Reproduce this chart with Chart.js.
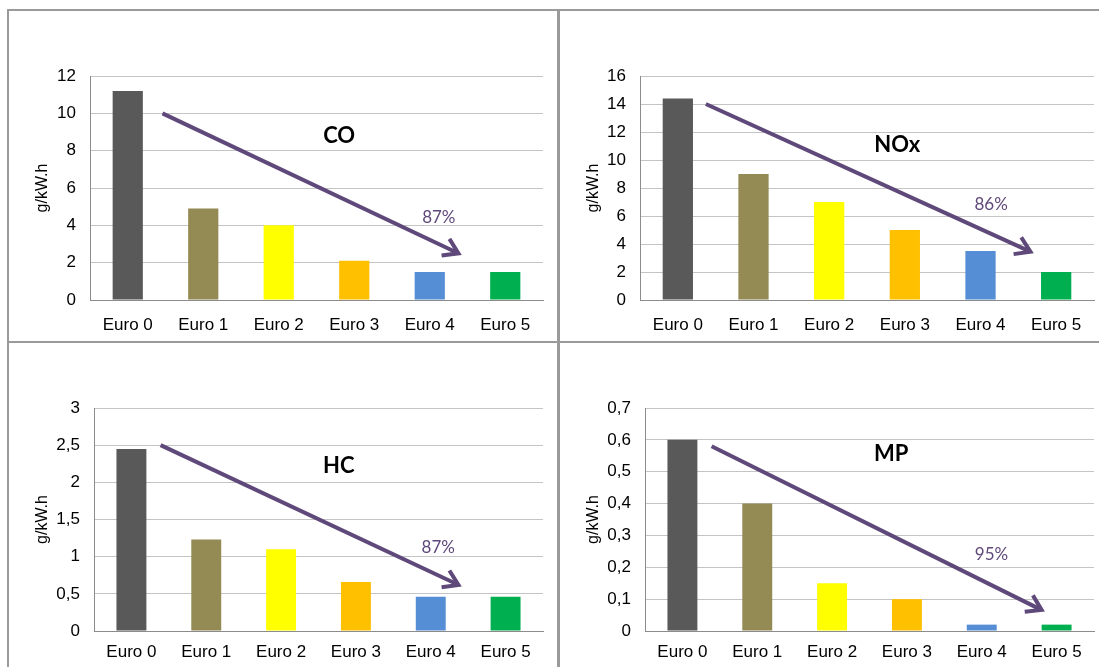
<!DOCTYPE html>
<html>
<head>
<meta charset="utf-8">
<script src="https://cdn.jsdelivr.net/npm/chart.js@4.4.1/dist/chart.umd.min.js"></script>
<style>
  html, body { margin: 0; padding: 0; background: #fff; overflow: hidden; }
  body { width: 1099px; height: 667px; position: relative; }
  .panel { position: absolute; box-sizing: border-box; border: 2px solid #9a9a9a; background: #fff; }
  .panel canvas { display: block; }
  #p1 { left: 7px;   top: 9px;   width: 552px; height: 335px; }
  #p2 { left: 558px; top: 9px;   width: 560px; height: 335px; }
  #p3 { left: 7px;   top: 341px; width: 552px; height: 340px; }
  #p4 { left: 558px; top: 341px; width: 560px; height: 340px; }
</style>
</head>
<body>
<div class="panel" id="p1"><canvas id="coChart" width="548" height="331"></canvas></div>
<div class="panel" id="p2"><canvas id="noxChart" width="556" height="331"></canvas></div>
<div class="panel" id="p3"><canvas id="hcChart" width="548" height="336"></canvas></div>
<div class="panel" id="p4"><canvas id="mpChart" width="556" height="336"></canvas></div>

<script>
const categories = ['Euro 0', 'Euro 1', 'Euro 2', 'Euro 3', 'Euro 4', 'Euro 5'];
const barColors = ['#595959', '#948a54', '#ffff00', '#ffc000', '#558ed5', '#00b050'];

// emission limits, g/kW.h
const coValues  = [11.2, 4.9, 4.0, 2.1, 1.5, 1.5];
const noxValues = [14.4, 9.0, 7.0, 5.0, 3.5, 2.0];
const hcValues  = [2.45, 1.23, 1.1, 0.66, 0.46, 0.46];
const mpValues  = [0.6, 0.4, 0.15, 0.1, 0.02, 0.02];

const pollutants = ['CO', 'NOx', 'HC', 'MP'];
const reductions = ['87%', '86%', '87%', '95%'];
const yMax  = [12, 16, 3, 0.7];
const yStep = [2, 2, 0.5, 0.1];

const unitLabel = 'g/kW.h';
const arrowColor = '#5f497a';
const fontFamily = '"Liberation Sans", Arial, sans-serif';

function fmt(v) {
  return String(Number(v.toFixed(2))).replace('.', ',');
}

// trend arrow, pollutant name and reduction text, placed in data units
const overlay = {
  id: 'overlay',
  afterDatasetsDraw(chart, args, o) {
    const ctx = chart.ctx;
    const xs = chart.scales.x, ys = chart.scales.y;
    const x0 = xs.getPixelForValue(0), dx = xs.getPixelForValue(1) - x0;
    const px = i => x0 + i * dx;
    const py = v => ys.getPixelForValue(v);

    ctx.save();
    const x1 = px(o.from[0]), y1 = py(o.from[1]);
    const x2 = px(o.to[0]), y2 = py(o.to[1]);
    const a = Math.atan2(y2 - y1, x2 - x1);
    ctx.strokeStyle = arrowColor;
    ctx.lineWidth = 4;
    ctx.beginPath();
    ctx.moveTo(x1, y1);
    ctx.lineTo(x2 - 2 * Math.cos(a), y2 - 2 * Math.sin(a));
    ctx.stroke();
    const len = 17, spread = Math.PI / 5.5;
    ctx.lineJoin = 'miter';
    ctx.beginPath();
    ctx.moveTo(x2 - len * Math.cos(a - spread), y2 - len * Math.sin(a - spread));
    ctx.lineTo(x2, y2);
    ctx.lineTo(x2 - len * Math.cos(a + spread), y2 - len * Math.sin(a + spread));
    ctx.stroke();

    ctx.textAlign = 'center';
    ctx.textBaseline = 'middle';
    ctx.fillStyle = '#000';
    ctx.font = 'bold 22px Lato, "Open Sans", sans-serif';
    ctx.fillText(o.name, px(o.nameAt[0]), py(o.nameAt[1]));
    ctx.fillStyle = arrowColor;
    ctx.font = '17px Lato, "Open Sans", sans-serif';
    ctx.fillText(o.pct, px(o.pctAt[0]), py(o.pctAt[1]));
    ctx.restore();
  }
};

function makeChart(id, k, values, box, marks) {
  return new Chart(document.getElementById(id), {
    type: 'bar',
    data: {
      labels: categories,
      datasets: [{
        data: values,
        backgroundColor: barColors,
        barPercentage: 0.4,
        categoryPercentage: 1
      }]
    },
    plugins: [overlay],
    options: {
      responsive: false,
      animation: false,
      layout: { padding: { top: 65, right: box.right, left: 0, bottom: 0 } },
      plugins: {
        legend: { display: false },
        tooltip: { enabled: false },
        overlay: Object.assign({ name: pollutants[k], pct: reductions[k] }, marks)
      },
      scales: {
        x: {
          grid: { display: false, drawTicks: false },
          border: { color: '#8c8c8c', width: 1 },
          ticks: { color: '#000', padding: box.xPad, font: { family: fontFamily, size: 17 } },
          afterFit(s) { s.height = box.xh; }
        },
        y: {
          min: 0,
          max: yMax[k],
          grid: { color: '#c4c4c4', drawTicks: false },
          border: { color: '#8c8c8c', width: 1 },
          ticks: {
            stepSize: yStep[k],
            color: '#000',
            padding: 14,
            font: { family: fontFamily, size: 17 },
            callback: v => fmt(v)
          },
          title: {
            display: true,
            text: unitLabel,
            color: '#000',
            font: { family: fontFamily, size: 16 },
            padding: { top: 24, bottom: 0 }
          },
          afterFit(s) { s.width = box.yw; }
        }
      }
    }
  });
}

makeChart('coChart', 0, coValues,
  { right: 14, yw: 81, xh: 42, xPad: 15 },
  { from: [0.46, 10], to: [4.38, 2.5], nameAt: [2.8, 8.8], pctAt: [4.12, 4.4] });

makeChart('noxChart', 1, noxValues,
  { right: 22, yw: 80, xh: 42, xPad: 15 },
  { from: [0.37, 14], to: [4.66, 3.45], nameAt: [2.9, 11.1], pctAt: [4.14, 6.8] });

makeChart('hcChart', 2, hcValues,
  { right: 14, yw: 85, xh: 48, xPad: 11 },
  { from: [0.39, 2.5], to: [4.37, 0.62], nameAt: [2.77, 2.22], pctAt: [4.1, 1.12] });

makeChart('mpChart', 3, mpValues,
  { right: 22, yw: 85, xh: 48, xPad: 11 },
  { from: [0.39, 0.58], to: [4.8, 0.066], nameAt: [2.79, 0.556], pctAt: [4.13, 0.24] });
</script>
</body>
</html>
